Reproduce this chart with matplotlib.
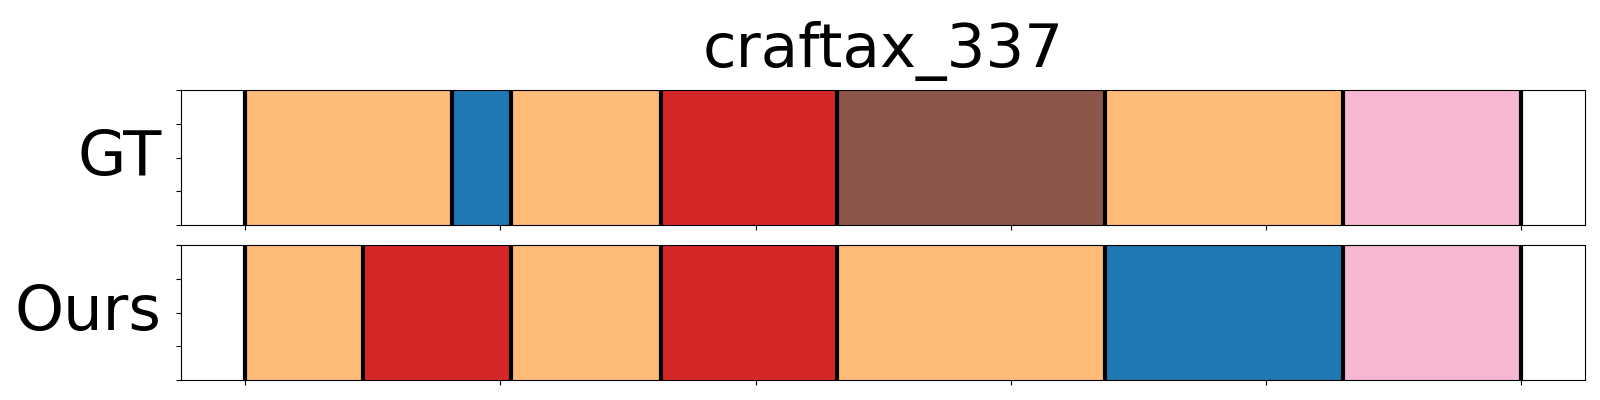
import matplotlib
matplotlib.use("Agg")
import matplotlib.pyplot as plt

title = "craftax_337"
row_labels = ["GT", "Ours"]
total_len = 500

gt_bounds = [0, 81, 104, 163, 232, 337, 430, 500]
gt_colors = ["#ffbb78", "#1f77b4", "#ffbb78", "#d62728", "#8c564b", "#ffbb78", "#f7b6d2"]

ours_bounds = [0, 46, 104, 163, 232, 337, 430, 500]
ours_colors = ["#ffbb78", "#d62728", "#ffbb78", "#d62728", "#ffbb78", "#1f77b4", "#f7b6d2"]

fig = plt.figure(figsize=(16, 4), dpi=100)
ax1 = fig.add_axes([0.1133, 0.4375, 0.8775, 0.3365])
ax2 = fig.add_axes([0.1133, 0.05, 0.8775, 0.3367])

for ax, bounds, colors, lab in [(ax1, gt_bounds, gt_colors, row_labels[0]),
                                (ax2, ours_bounds, ours_colors, row_labels[1])]:
    for i, c in enumerate(colors):
        ax.axvspan(bounds[i], bounds[i + 1], color=c, lw=1)
    for b in bounds:
        ax.axvline(b, color="black", lw=3)
    ax.set_xlim(-0.05 * total_len, 1.05 * total_len)
    ax.set_ylim(0, 1)
    ax.set_xticks([0, 100, 200, 300, 400, 500])
    ax.set_yticks([0, 0.25, 0.5, 0.75, 1.0])
    ax.set_xticklabels([])
    ax.set_yticklabels([])
    ax.set_ylabel(lab, fontsize=45, rotation=0, ha="right", va="center", labelpad=7)

ax1.set_title(title, fontsize=44, pad=17)
fig.savefig("out.png", dpi=100)
